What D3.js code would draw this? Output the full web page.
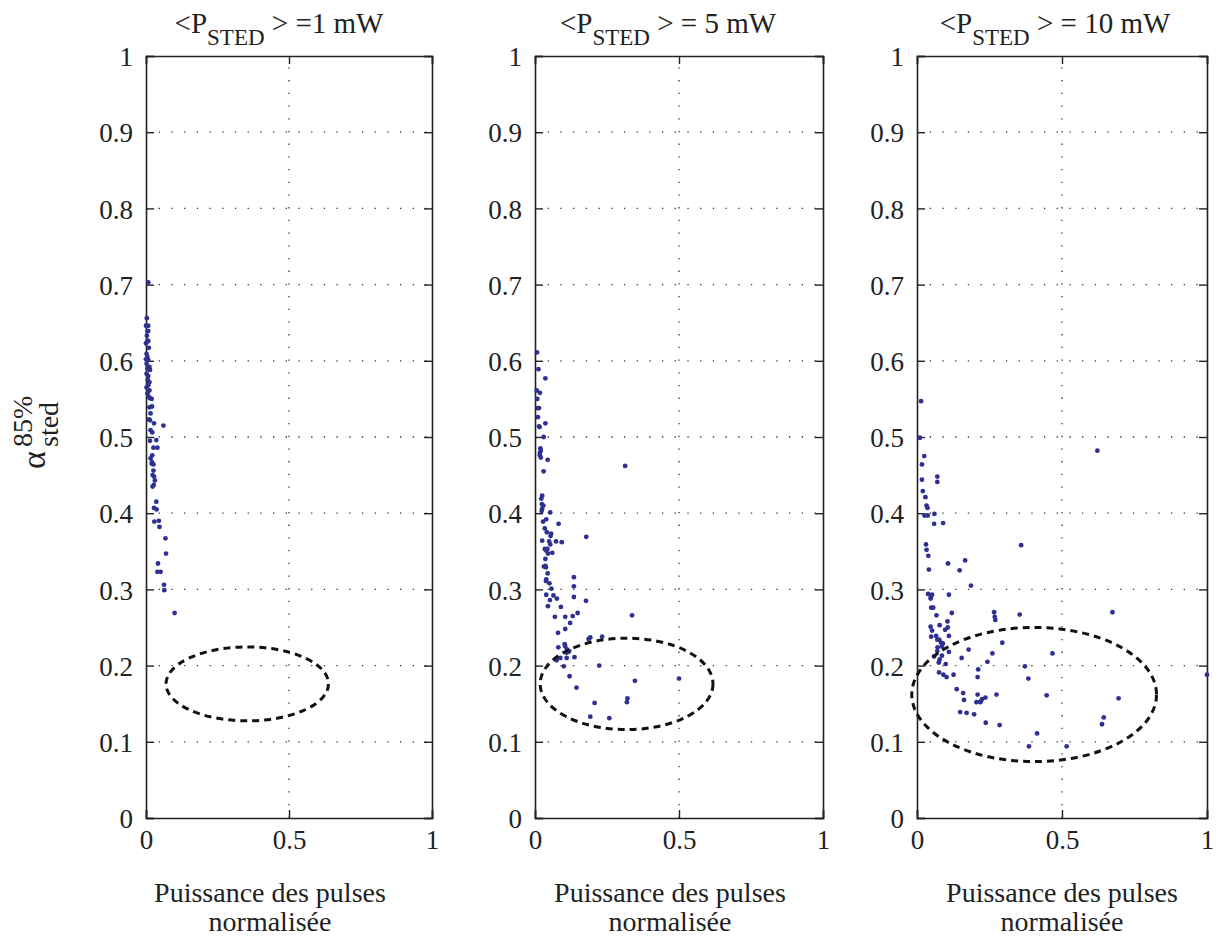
<!DOCTYPE html>
<html>
<head>
<meta charset="utf-8">
<script src="https://cdn.jsdelivr.net/npm/d3@7"></script>
<style>
  html, body { margin: 0; padding: 0; background: #fff; }
  svg { display: block; }
  text { font-family: "Liberation Serif", "Times New Roman", serif; fill: #222; }
</style>
</head>
<body>
<svg id="chart" width="1220" height="938"></svg>
<script>
// ---------- data ----------
const panelTitles = ["=1 mW", "= 5 mW", "= 10 mW"];
const xTickValues = [0, 0.5, 1];
const xTickLabels = ["0", "0.5", "1"];
const yTickValues = [0, 0.1, 0.2, 0.3, 0.4, 0.5, 0.6, 0.7, 0.8, 0.9, 1];
const yTickLabels = ["0", "0.1", "0.2", "0.3", "0.4", "0.5", "0.6", "0.7", "0.8", "0.9", "1"];
const xLabelLines = ["Puissance des pulses", "normalisée"];

const points1mW = [
  [0.008,0.703],[0.003,0.656],[0.000,0.646],[0.008,0.646],[0.005,0.639],[0.008,0.639],
  [0.003,0.633],[0.005,0.626],[0.008,0.626],[0.000,0.623],[0.010,0.617],[0.002,0.609],
  [0.005,0.605],[0.000,0.602],[0.008,0.601],[0.002,0.596],[0.012,0.592],[0.005,0.590],
  [0.014,0.588],[0.002,0.583],[0.008,0.580],[0.006,0.575],[0.012,0.572],[0.008,0.568],
  [0.002,0.565],[0.012,0.561],[0.005,0.557],[0.009,0.553],[0.014,0.551],[0.020,0.550],
  [0.012,0.539],[0.021,0.540],[0.016,0.531],[0.010,0.523],[0.014,0.522],[0.028,0.518],
  [0.061,0.515],[0.016,0.509],[0.022,0.506],[0.036,0.496],[0.014,0.495],[0.026,0.486],
  [0.040,0.486],[0.022,0.476],[0.016,0.472],[0.021,0.467],[0.020,0.465],[0.026,0.464],
  [0.026,0.456],[0.023,0.450],[0.028,0.448],[0.031,0.443],[0.023,0.435],[0.027,0.437],
  [0.036,0.415],[0.028,0.407],[0.037,0.405],[0.029,0.389],[0.045,0.390],[0.047,0.382],
  [0.068,0.367],[0.070,0.347],[0.042,0.334],[0.040,0.323],[0.051,0.323],[0.063,0.306],
  [0.064,0.299],[0.100,0.269]
];

const points5mW = [
  [0.007,0.611],[0.012,0.589],[0.036,0.577],[0.006,0.561],[0.017,0.558],[0.008,0.550],
  [0.008,0.538],[0.014,0.538],[0.010,0.526],[0.036,0.518],[0.014,0.514],[0.016,0.513],
  [0.030,0.500],[0.019,0.485],[0.020,0.482],[0.017,0.479],[0.017,0.476],[0.020,0.473],
  [0.044,0.470],[0.030,0.455],[0.313,0.462],[0.025,0.423],[0.022,0.419],[0.024,0.412],
  [0.029,0.410],[0.025,0.406],[0.023,0.403],[0.053,0.401],[0.039,0.392],[0.028,0.389],
  [0.082,0.386],[0.034,0.380],[0.041,0.375],[0.056,0.373],[0.054,0.370],[0.178,0.369],
  [0.025,0.364],[0.049,0.363],[0.073,0.363],[0.093,0.362],[0.053,0.359],[0.034,0.353],
  [0.043,0.353],[0.039,0.351],[0.060,0.348],[0.045,0.347],[0.036,0.340],[0.031,0.330],
  [0.036,0.331],[0.038,0.329],[0.044,0.321],[0.039,0.313],[0.038,0.311],[0.050,0.308],
  [0.135,0.316],[0.057,0.301],[0.135,0.304],[0.039,0.293],[0.064,0.292],[0.135,0.290],
  [0.052,0.286],[0.076,0.288],[0.177,0.285],[0.045,0.278],[0.090,0.277],[0.148,0.269],
  [0.337,0.266],[0.069,0.264],[0.105,0.264],[0.131,0.265],[0.122,0.256],[0.105,0.248],
  [0.080,0.243],[0.186,0.235],[0.192,0.237],[0.233,0.238],[0.103,0.228],[0.105,0.225],
  [0.081,0.224],[0.112,0.221],[0.116,0.218],[0.109,0.217],[0.119,0.219],[0.110,0.210],
  [0.137,0.211],[0.088,0.210],[0.075,0.207],[0.100,0.199],[0.223,0.200],[0.120,0.186],
  [0.347,0.180],[0.500,0.183],[0.144,0.171],[0.207,0.151],[0.321,0.157],[0.319,0.152],
  [0.192,0.133],[0.258,0.131]
];

const points10mW = [
  [0.014,0.547],[0.010,0.499],[0.025,0.475],[0.017,0.464],[0.017,0.444],[0.070,0.448],
  [0.070,0.441],[0.020,0.429],[0.029,0.421],[0.033,0.410],[0.036,0.407],[0.026,0.397],
  [0.037,0.397],[0.060,0.399],[0.059,0.386],[0.090,0.387],[0.031,0.359],[0.033,0.352],
  [0.039,0.344],[0.359,0.358],[0.107,0.334],[0.166,0.338],[0.041,0.326],[0.147,0.325],
  [0.622,0.482],[0.186,0.305],[0.038,0.294],[0.052,0.293],[0.048,0.290],[0.047,0.288],
  [0.110,0.293],[0.049,0.276],[0.056,0.276],[0.067,0.266],[0.120,0.269],[0.266,0.270],
  [0.268,0.264],[0.270,0.260],[0.354,0.267],[0.674,0.270],[0.047,0.251],[0.052,0.246],
  [0.078,0.253],[0.105,0.258],[0.097,0.247],[0.106,0.250],[0.110,0.239],[0.049,0.238],
  [0.066,0.239],[0.070,0.234],[0.077,0.234],[0.083,0.230],[0.089,0.229],[0.071,0.224],
  [0.086,0.225],[0.070,0.219],[0.110,0.218],[0.178,0.221],[0.294,0.230],[0.260,0.216],
  [0.467,0.216],[0.059,0.212],[0.086,0.213],[0.078,0.208],[0.075,0.204],[0.154,0.210],
  [0.243,0.205],[0.099,0.202],[0.211,0.195],[0.372,0.199],[0.076,0.191],[0.091,0.188],
  [0.102,0.185],[0.126,0.188],[0.209,0.185],[0.384,0.183],[1.000,0.188],[0.137,0.169],
  [0.159,0.164],[0.162,0.155],[0.209,0.162],[0.274,0.162],[0.205,0.152],[0.220,0.153],
  [0.224,0.156],[0.236,0.158],[0.218,0.152],[0.447,0.161],[0.695,0.157],[0.149,0.139],
  [0.171,0.138],[0.197,0.136],[0.644,0.132],[0.638,0.123],[0.237,0.125],[0.285,0.122],
  [0.414,0.111],[0.386,0.094],[0.516,0.094]
];

// ellipses: [cx, cy, rx, ry] in data units
const ellipse1mW = [0.354, 0.176, 0.284, 0.0485];
const ellipse5mW = [0.318, 0.176, 0.300, 0.060];
const ellipse10mW = [0.404, 0.162, 0.422, 0.088];

// ---------- layout ----------
const panelsData = [
  { pts: points1mW, ell: ellipse1mW, title: panelTitles[0] },
  { pts: points5mW, ell: ellipse5mW, title: panelTitles[1] },
  { pts: points10mW, ell: ellipse10mW, title: panelTitles[2] }
];
const panelX = [[146, 432], [535, 823], [917, 1207]];
const titleCx = [279, 668, 1055];
const xLabelCx = [270, 670, 1062];
const yTop = 56, yBot = 818;
const fontSize = 27;
const tickLen = 8;
const dotColor = "#2e3192";
const serif = '"Liberation Serif", "Times New Roman", serif';

const svg = d3.select("#chart");

panelsData.forEach((p, i) => {
  const x = d3.scaleLinear().domain([0, 1]).range(panelX[i]);
  const y = d3.scaleLinear().domain([0, 1]).range([yBot, yTop]);
  const g = svg.append("g");

  // grid (dotted)
  g.selectAll(".hgrid").data(yTickValues.filter(v => v > 0 && v < 1)).enter()
    .append("line")
    .attr("x1", x(0)).attr("x2", x(1))
    .attr("y1", d => y(d)).attr("y2", d => y(d))
    .attr("stroke", "#333").attr("stroke-width", 1.3)
    .attr("stroke-dasharray", "1.3 11.4");
  g.selectAll(".vgrid").data(xTickValues.filter(v => v > 0 && v < 1)).enter()
    .append("line")
    .attr("x1", d => x(d)).attr("x2", d => x(d))
    .attr("y1", y(0)).attr("y2", y(1))
    .attr("stroke", "#333").attr("stroke-width", 1.3)
    .attr("stroke-dasharray", "1.3 11.4");

  // axes with inward ticks
  const axL = d3.axisLeft(y).tickValues(yTickValues).tickSize(-tickLen).tickPadding(13)
    .tickFormat((d, k) => yTickLabels[k]);
  const axR = d3.axisRight(y).tickValues(yTickValues).tickSize(-tickLen).tickFormat("");
  const axB = d3.axisBottom(x).tickValues(xTickValues).tickSize(-tickLen).tickPadding(12)
    .tickFormat((d, k) => xTickLabels[k]);
  const axT = d3.axisTop(x).tickValues(xTickValues).tickSize(-tickLen).tickFormat("");

  const gl = g.append("g").attr("transform", `translate(${x(0)},0)`).call(axL);
  const gr = g.append("g").attr("transform", `translate(${x(1)},0)`).call(axR);
  const gb = g.append("g").attr("transform", `translate(0,${y(0)})`).call(axB);
  const gt = g.append("g").attr("transform", `translate(0,${y(1)})`).call(axT);
  [gl, gr, gb, gt].forEach(a => {
    a.attr("font-family", serif);
    a.select(".domain").attr("stroke", "#222").attr("stroke-width", 1.6);
    a.selectAll(".tick line").attr("stroke", "#222").attr("stroke-width", 1.4);
    a.selectAll("text").style("font-family", serif)
      .style("font-size", fontSize + "px").attr("fill", "#222");
  });
  gl.selectAll("text").attr("dy", "0.36em");
  gb.selectAll("text").attr("dy", "0.72em");

  // points
  g.selectAll("circle.pt").data(p.pts).enter()
    .append("circle").attr("class", "pt")
    .attr("cx", d => x(d[0])).attr("cy", d => y(d[1]))
    .attr("r", 2.4).attr("fill", dotColor);

  // dashed ellipse
  const [ecx, ecy, erx, ery] = p.ell;
  g.append("ellipse")
    .attr("cx", x(ecx)).attr("cy", y(ecy))
    .attr("rx", x(ecx + erx) - x(ecx)).attr("ry", y(ecy) - y(ecy + ery))
    .attr("fill", "none").attr("stroke", "#111").attr("stroke-width", 3)
    .attr("stroke-dasharray", "7 5");

  // title
  const t = svg.append("text").attr("x", titleCx[i]).attr("y", 33)
    .attr("text-anchor", "middle").style("font-size", "29px");
  t.append("tspan").text("<P");
  t.append("tspan").attr("dy", 12).style("font-size", "23px").text("STED");
  t.append("tspan").attr("dy", -12).text(" > " + p.title);

  // x label
  xLabelLines.forEach((line, k) => {
    svg.append("text").attr("x", xLabelCx[i]).attr("y", 902 + k * 29)
      .attr("text-anchor", "middle").style("font-size", "28px").text(line);
  });
});

// y label: alpha with superscript 85% and subscript sted
const yl = svg.append("g").attr("transform", "translate(45,469) rotate(-90)");
yl.append("text").attr("x", 0).attr("y", 0).style("font-size", "34px").text("α");
yl.append("text").attr("x", 22).attr("y", -13).style("font-size", "28px").text("85%");
yl.append("text").attr("x", 22).attr("y", 13).style("font-size", "28px").text("sted");
</script>
</body>
</html>
